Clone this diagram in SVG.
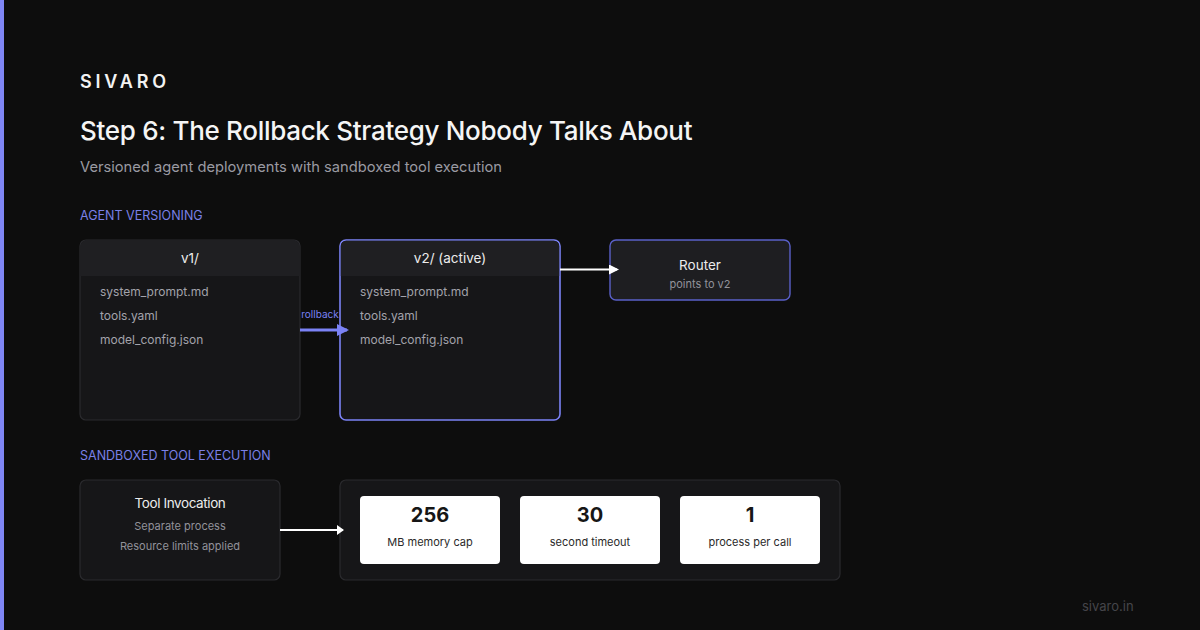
<svg xmlns="http://www.w3.org/2000/svg" width="1200" height="630" viewBox="0 0 1200 630">
<defs>
<style>
text{font-family:Inter,"Noto Sans","Liberation Sans",sans-serif}
.box{fill:#161618;stroke:#2a2a2e;stroke-width:1.2}
.hdr{fill:#1f1f22}
.sec{font-size:12.5px;fill:#7a80e6}
.file{font-size:12px;fill:#a3a3ab}
.head{font-size:13.5px;fill:#ececec;text-anchor:middle}
.sub{font-size:11px;fill:#92929a;text-anchor:middle}
.card{fill:#ffffff}
.num{font-size:20px;font-weight:700;fill:#161616;text-anchor:middle}
.lbl{font-size:11px;fill:#2a2a2a;text-anchor:middle}
</style>
<marker id="aw" markerWidth="10" markerHeight="10" refX="8" refY="5" orient="auto" markerUnits="userSpaceOnUse" viewBox="0 0 10 10"><path d="M0,0 L10,5 L0,10 z" fill="#ffffff"/></marker>
<marker id="aws" markerWidth="7" markerHeight="10" refX="6" refY="5" orient="auto" markerUnits="userSpaceOnUse" viewBox="0 0 7 10"><path d="M0,0 L7,5 L0,10 z" fill="#ffffff"/></marker>
<marker id="ap" markerWidth="12" markerHeight="12" refX="10" refY="6" orient="auto" markerUnits="userSpaceOnUse" viewBox="0 0 12 12"><path d="M0,0 L12,6 L0,12 z" fill="#7b82f5"/></marker>
</defs>
<rect width="1200" height="630" fill="#0d0d0d"/>
<rect x="0" y="0" width="4" height="630" fill="#7f86f5"/>
<text x="80" y="88" font-size="18" font-weight="600" fill="#f2f2f2" letter-spacing="3.8">SIVARO</text>
<text x="80" y="140" font-size="26" font-weight="500" fill="#f5f5f5" letter-spacing="-0.3">Step 6: The Rollback Strategy Nobody Talks About</text>
<text x="80" y="172" font-size="14.7" fill="#9a9aa2">Versioned agent deployments with sandboxed tool execution</text>
<text class="sec" x="80" y="220">AGENT VERSIONING</text>

<g id="v1">
<rect class="box" x="80" y="240" width="220" height="180" rx="6"/>
<path class="hdr" d="M86,240.6 H294 A5.4,5.4 0 0 1 299.4,246 V276 H80.6 V246 A5.4,5.4 0 0 1 86,240.6 z"/>
<text class="head" x="190" y="263">v1/</text>
<text class="file" x="100" y="296">system_prompt.md</text>
<text class="file" x="100" y="320">tools.yaml</text>
<text class="file" x="100" y="344">model_config.json</text>
</g>

<g id="v2">
<rect x="340" y="240" width="220" height="180" rx="6" fill="#161618" stroke="#7b82f5" stroke-width="1.6"/>
<path class="hdr" d="M346,240.8 H554 A5.2,5.2 0 0 1 559.2,246 V276 H340.8 V246 A5.2,5.2 0 0 1 346,240.8 z"/>
<text class="head" x="450" y="263">v2/ (active)</text>
<text class="file" x="360" y="296">system_prompt.md</text>
<text class="file" x="360" y="320">tools.yaml</text>
<text class="file" x="360" y="344">model_config.json</text>
</g>

<g id="router">
<rect x="610" y="240" width="180" height="60" rx="6" fill="#1e1e21" stroke="#5a60c8" stroke-width="1.4"/>
<text class="head" x="700" y="270">Router</text>
<text class="sub" x="700" y="288">points to v2</text>
</g>

<text class="sec" x="80" y="460">SANDBOXED TOOL EXECUTION</text>

<g id="tool">
<rect class="box" x="80" y="480" width="200" height="100" rx="6"/>
<text class="head" x="180" y="508" font-size="12" letter-spacing="-0.4">Tool Invocation</text>
<text class="sub" x="180" y="530">Separate process</text>
<text class="sub" x="180" y="550">Resource limits applied</text>
</g>

<g id="limits">
<rect class="box" x="340" y="480" width="500" height="100" rx="6"/>
<rect class="card" x="360" y="496" width="140" height="68" rx="4"/>
<text class="num" x="430" y="522">256</text>
<text class="lbl" x="430" y="546">MB memory cap</text>
<rect class="card" x="520" y="496" width="140" height="68" rx="4"/>
<text class="num" x="590" y="522">30</text>
<text class="lbl" x="590" y="546">second timeout</text>
<rect class="card" x="680" y="496" width="140" height="68" rx="4"/>
<text class="num" x="750" y="522">1</text>
<text class="lbl" x="750" y="546">process per call</text>
</g>

<g id="connectors">
<line x1="560" y1="269.5" x2="617" y2="269.5" stroke="#ffffff" stroke-width="2" marker-end="url(#aw)"/>
<line x1="300" y1="330" x2="347" y2="330" stroke="#7b82f5" stroke-width="3" marker-end="url(#ap)"/>
<text x="320" y="318" font-size="10" fill="#7b82f5" text-anchor="middle">rollback</text>
<line x1="280" y1="530" x2="343" y2="530" stroke="#ffffff" stroke-width="2" marker-end="url(#aws)"/>
</g>

<text x="1082" y="611" font-size="13" fill="#45454a">sivaro.in</text>
</svg>
